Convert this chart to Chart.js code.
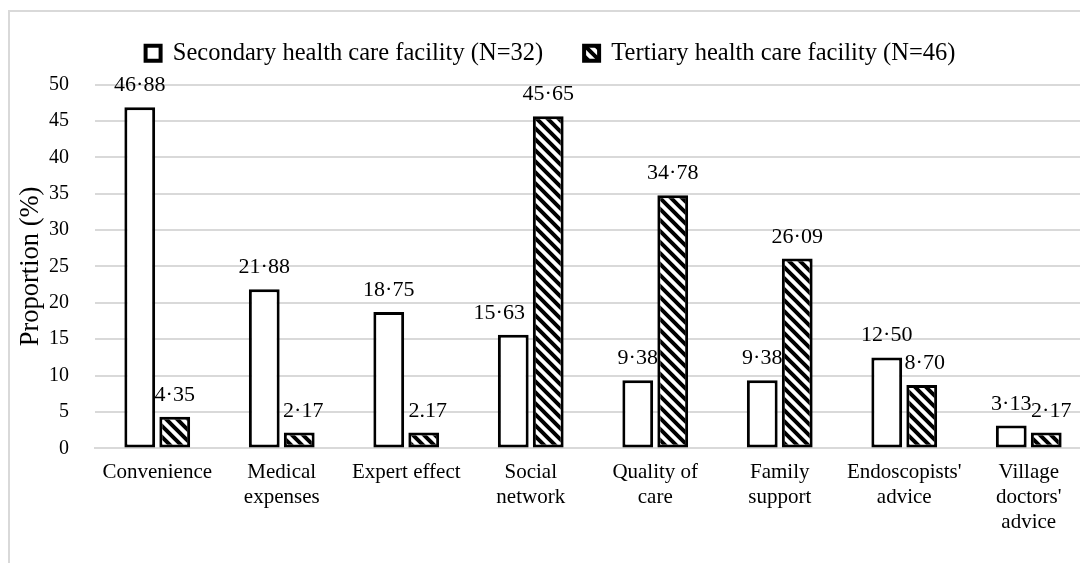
<!DOCTYPE html>
<html>
<head>
<meta charset="utf-8">
<script src="https://cdn.jsdelivr.net/npm/chart.js@4/dist/chart.umd.min.js"></script>
<style>
    html, body { margin: 0; padding: 0; background: #fff; overflow: hidden; }
    .frame {
        position: absolute; left: 8px; top: 10px; width: 1200px; height: 700px;
        border: 2px solid #d9d9d9; box-sizing: border-box;
    }
    #chart { position: absolute; left: 0; top: 0; }
</style>
</head>
<body>
<div class="frame"></div>
<canvas id="chart" width="1100" height="563"></canvas>
<script>
// Reasons for choosing a facility
const categories = [
    'Convenience',
    ['Medical', 'expenses'],
    'Expert effect',
    ['Social', 'network'],
    ['Quality of', 'care'],
    ['Family', 'support'],
    ["Endoscopists'", 'advice'],
    ['Village', "doctors'", 'advice']
];
const seriesNames = ['Secondary health care facility (N=32)', 'Tertiary health care facility (N=46)'];
const secondary = [46.88, 21.88, 18.75, 15.63, 9.38, 9.38, 12.50, 3.13];
const tertiary = [4.35, 2.17, 2.17, 45.65, 34.78, 26.09, 8.70, 2.17];
// value labels as printed on the figure
const secondaryLabels = ['46·88', '21·88', '18·75', '15·63', '9·38', '9·38', '12·50', '3·13'];
const tertiaryLabels = ['4·35', '2·17', '2.17', '45·65', '34·78', '26·09', '8·70', '2·17'];
const yTicks = [0, 5, 10, 15, 20, 25, 30, 35, 40, 45, 50];

const FONT = "'Liberation Serif', 'Times New Roman', serif";

// diagonal hatch fill for the tertiary bars
function makeHatch() {
    const size = 11;
    const c = document.createElement('canvas');
    c.width = size; c.height = size;
    const g = c.getContext('2d');
    g.fillStyle = '#fff';
    g.fillRect(0, 0, size, size);
    g.strokeStyle = '#000';
    g.lineWidth = 4;
    g.beginPath();
    g.moveTo(-2, -2); g.lineTo(size + 2, size + 2);
    g.moveTo(-2, size - 2); g.lineTo(2, size + 2);
    g.moveTo(size - 2, -2); g.lineTo(size + 2, 2);
    g.stroke();
    return g.createPattern(c, 'repeat');
}
const hatch = makeHatch();

// hand-moved labels in the original (dataset-index: x shift in px)
const labelNudge = { '0-3': -14, '1-1': 4, '1-2': 4, '1-6': 3, '1-7': 5 };

const valueLabels = {
    id: 'valueLabels',
    afterDatasetsDraw(chart) {
        const ctx = chart.ctx;
        const texts = [secondaryLabels, tertiaryLabels];
        ctx.save();
        ctx.font = '22px ' + FONT;
        ctx.fillStyle = '#000';
        ctx.textAlign = 'center';
        ctx.textBaseline = 'alphabetic';
        chart.data.datasets.forEach((ds, di) => {
            chart.getDatasetMeta(di).data.forEach((bar, i) => {
                const dx = labelNudge[di + '-' + i] || 0;
                ctx.fillText(texts[di][i], bar.x + dx, bar.y - 16);
            });
        });
        ctx.restore();
    }
};

const ctx = document.getElementById('chart').getContext('2d');

new Chart(ctx, {
    type: 'bar',
    data: {
        labels: categories,
        datasets: [
            {
                label: seriesNames[0],
                data: secondary,
                backgroundColor: '#fff',
                borderColor: '#000',
                borderWidth: 3,
                borderSkipped: false
            },
            {
                label: seriesNames[1],
                data: tertiary,
                backgroundColor: hatch,
                borderColor: '#000',
                borderWidth: 3,
                borderSkipped: false
            }
        ]
    },
    options: {
        responsive: false,
        animation: false,
        categoryPercentage: 0.562,
        barPercentage: 0.88,
        layout: {
            padding: { top: 0, left: 10, right: 9, bottom: 17 }
        },
        plugins: {
            legend: {
                position: 'top',
                weight: 3000,
                labels: {
                    color: '#000',
                    boxWidth: 15,
                    boxHeight: 15,
                    padding: 41,
                    font: { family: FONT, size: 24.5 },
                    generateLabels(chart) {
                        return chart.data.datasets.map((ds, i) => ({
                            text: ds.label,
                            fillStyle: ds.backgroundColor,
                            strokeStyle: '#000',
                            lineWidth: 4,
                            fontColor: '#000',
                            datasetIndex: i
                        }));
                    }
                }
            },
            // empty title used as a spacer between the legend and the plot
            title: {
                display: true,
                text: '',
                padding: 0,
                font: { size: 9, lineHeight: 1 }
            },
            tooltip: { enabled: false }
        },
        scales: {
            x: {
                grid: { display: false, drawTicks: false },
                border: { display: true, color: '#d9d9d9', width: 2 },
                ticks: {
                    color: '#000',
                    padding: 11,
                    autoSkip: false,
                    maxRotation: 0,
                    font: { family: FONT, size: 21, lineHeight: 1.2 }
                }
            },
            y: {
                min: 0,
                max: 50,
                afterBuildTicks(scale) {
                    scale.ticks = yTicks.map(v => ({ value: v }));
                },
                afterFit(scale) {
                    scale.width = 85;
                },
                grid: { color: '#d9d9d9', lineWidth: 2, drawTicks: false },
                border: { display: false },
                ticks: {
                    color: '#000',
                    padding: 26,
                    font: { family: FONT, size: 20 }
                },
                title: {
                    display: true,
                    text: 'Proportion (%)',
                    color: '#000',
                    padding: { top: 5, bottom: 0 },
                    font: { family: FONT, size: 26.5 }
                }
            }
        }
    },
    plugins: [valueLabels]
});
</script>
</body>
</html>
